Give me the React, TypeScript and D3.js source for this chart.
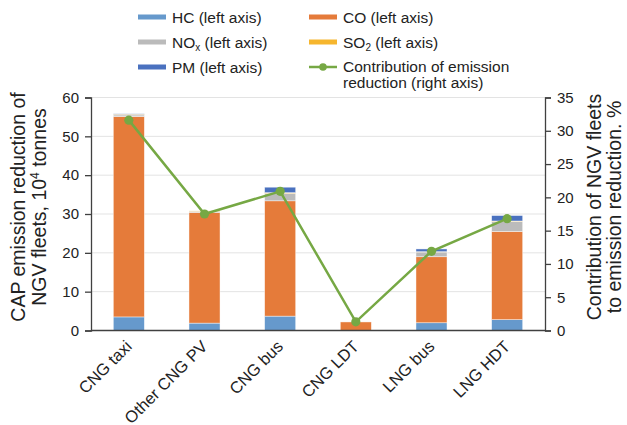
import React, { useEffect, useRef } from 'react';
import * as d3 from 'd3';

const categories = ['CNG taxi', 'Other CNG PV', 'CNG bus', 'CNG LDT', 'LNG bus', 'LNG HDT'];
const hc = [3.5, 1.9, 3.7, 0.0, 2.0, 2.8];
const co = [51.6, 28.5, 29.7, 2.2, 17.0, 22.7];
const nox = [0.4, 0.3, 1.9, 0.0, 1.2, 2.6];
const so2 = [0.2, 0.1, 0.2, 0.0, 0.1, 0.1];
const pm = [0.1, 0.0, 1.4, 0.0, 0.7, 1.4];
const contribution = [31.6, 17.5, 20.9, 1.3, 11.9, 16.8];
const leftTicks = [0, 10, 20, 30, 40, 50, 60];
const rightTicks = [0, 5, 10, 15, 20, 25, 30, 35];

const seriesNames = ['HC', 'CO', 'NOx', 'SO2', 'PM'];
const colors = ['#6699CC', '#E57B3A', '#BBBBBB', '#F6B62E', '#4A71BF'];
const lineColor = '#76A844';
const font = 'Arial, "Liberation Sans", sans-serif';

const App = () => {
  const svgRef = useRef<SVGSVGElement>(null);

  useEffect(() => {
    const width = 627;
    const height = 425;
    const m = { left: 91, right: 82, top: 97.5, bottom: 94.5 };
    const svg = d3.select(svgRef.current).attr('width', width).attr('height', height);
    svg.selectAll('*').remove();

    const x = d3
      .scaleBand()
      .domain(categories)
      .range([m.left, width - m.right])
      .paddingInner(0.59)
      .paddingOuter(0.295);
    const y = d3.scaleLinear().domain([0, 60]).range([height - m.bottom, m.top]);
    const y2 = d3.scaleLinear().domain([0, 35]).range([height - m.bottom, m.top]);

    // gridlines
    svg
      .append('g')
      .selectAll('line')
      .data(leftTicks.slice(1))
      .enter()
      .append('line')
      .attr('x1', m.left)
      .attr('x2', width - m.right)
      .attr('y1', d => y(d))
      .attr('y2', d => y(d))
      .attr('stroke', '#E3E3E3')
      .attr('stroke-width', 1);

    // stacked bars
    const rows = categories.map((c, i) => ({ cat: c, HC: hc[i], CO: co[i], NOx: nox[i], SO2: so2[i], PM: pm[i] }));
    const stack = d3.stack<any>().keys(seriesNames)(rows);
    stack.forEach((layer, li) => {
      svg
        .append('g')
        .selectAll('rect')
        .data(layer.filter(d => d[1] - d[0] > 0))
        .enter()
        .append('rect')
        .attr('x', d => x(d.data.cat)!)
        .attr('width', x.bandwidth())
        .attr('y', d => y(d[1]))
        .attr('height', d => y(d[0]) - y(d[1]))
        .attr('fill', colors[li])
        .attr('stroke', 'rgba(255,255,255,0.6)')
        .attr('stroke-width', 0.7);
    });

    // axes
    const axisColor = '#404040';
    const gl = svg
      .append('g')
      .attr('transform', `translate(${m.left},0)`)
      .call(d3.axisLeft(y).tickValues(leftTicks).tickSize(6).tickPadding(6));
    const gr = svg
      .append('g')
      .attr('transform', `translate(${width - m.right},0)`)
      .call(d3.axisRight(y2).tickValues(rightTicks).tickSize(6).tickPadding(6));
    [gl, gr].forEach(g => {
      g.select('.domain').attr('stroke', axisColor).attr('stroke-width', 1.3);
      g.selectAll('.tick line').attr('stroke', axisColor).attr('stroke-width', 1.3);
      g.selectAll('.tick text').attr('fill', '#222').style('font', `15px ${font}`);
    });
    svg
      .append('line')
      .attr('x1', m.left)
      .attr('x2', width - m.right)
      .attr('y1', y(0))
      .attr('y2', y(0))
      .attr('stroke', axisColor)
      .attr('stroke-width', 1.6);

    // x labels
    svg
      .append('g')
      .selectAll('text')
      .data(categories)
      .enter()
      .append('text')
      .attr('transform', d => `translate(${x(d)! + x.bandwidth() / 2 + 4},${y(0) + 17}) rotate(-45)`)
      .attr('text-anchor', 'end')
      .attr('fill', '#222')
      .style('font', `16.5px ${font}`)
      .text(d => d);

    // line series
    const pts = categories.map((c, i) => [x(c)! + x.bandwidth() / 2, y2(contribution[i])] as [number, number]);
    svg
      .append('path')
      .attr('d', d3.line()(pts))
      .attr('fill', 'none')
      .attr('stroke', lineColor)
      .attr('stroke-width', 2.5);
    svg
      .append('g')
      .selectAll('circle')
      .data(pts)
      .enter()
      .append('circle')
      .attr('cx', d => d[0])
      .attr('cy', d => d[1])
      .attr('r', 4.6)
      .attr('fill', lineColor);

    // axis titles
    const cy = 207;
    const lt = svg.append('text').attr('transform', `translate(25,${cy}) rotate(-90)`).attr('text-anchor', 'middle').attr('fill', '#222').style('font', `19.5px ${font}`);
    lt.text('CAP emission reduction of');
    const lt2 = svg.append('text').attr('transform', `translate(46,${cy}) rotate(-90)`).attr('text-anchor', 'middle').attr('fill', '#222').style('font', `19.5px ${font}`);
    lt2.append('tspan').text('NGV fleets, 10');
    lt2.append('tspan').attr('dy', -7).style('font-size', '12px').text('4');
    lt2.append('tspan').attr('dy', 7).text(' tonnes');
    svg.append('text').attr('transform', `translate(601,${cy}) rotate(-90)`).attr('text-anchor', 'middle').attr('fill', '#222').style('font', `19.5px ${font}`).text('Contribution of NGV fleets');
    svg.append('text').attr('transform', `translate(621,${cy}) rotate(-90)`).attr('text-anchor', 'middle').attr('fill', '#222').style('font', `19.5px ${font}`).text('to emission reduction. %');

    // legend
    const legFont = `15.5px ${font}`;
    const leg = [
      { label: 'HC', sub: '', x: 138, y: 17, c: colors[0] },
      { label: 'NO', sub: 'x', x: 138, y: 42, c: colors[2] },
      { label: 'PM', sub: '', x: 138, y: 67, c: colors[4] },
      { label: 'CO', sub: '', x: 309, y: 17, c: colors[1] },
      { label: 'SO', sub: '2', x: 309, y: 42, c: colors[3] },
    ];
    leg.forEach(l => {
      svg.append('rect').attr('x', l.x).attr('y', l.y - 2.5).attr('width', 28).attr('height', 5).attr('fill', l.c);
      const t = svg.append('text').attr('x', l.x + 34).attr('y', l.y + 5.5).attr('fill', '#222').style('font', legFont);
      t.append('tspan').text(l.label);
      if (l.sub) {
        t.append('tspan').attr('dy', 3).style('font-size', '10px').text(l.sub);
        t.append('tspan').attr('dy', -3).text(' (left axis)');
      } else {
        t.append('tspan').text(' (left axis)');
      }
    });
    svg.append('line').attr('x1', 309).attr('x2', 337).attr('y1', 67).attr('y2', 67).attr('stroke', lineColor).attr('stroke-width', 2.5);
    svg.append('circle').attr('cx', 323).attr('cy', 67).attr('r', 3.8).attr('fill', lineColor);
    svg.append('text').attr('x', 343).attr('y', 72).attr('fill', '#222').style('font', legFont).text('Contribution of emission');
    svg.append('text').attr('x', 343).attr('y', 88).attr('fill', '#222').style('font', legFont).text('reduction (right axis)');
  }, []);

  return (
    <div style={{ position: 'absolute', left: 0, top: 0 }}>
      <svg ref={svgRef} style={{ display: 'block', background: '#fff' }}></svg>
    </div>
  );
};

export default App;
